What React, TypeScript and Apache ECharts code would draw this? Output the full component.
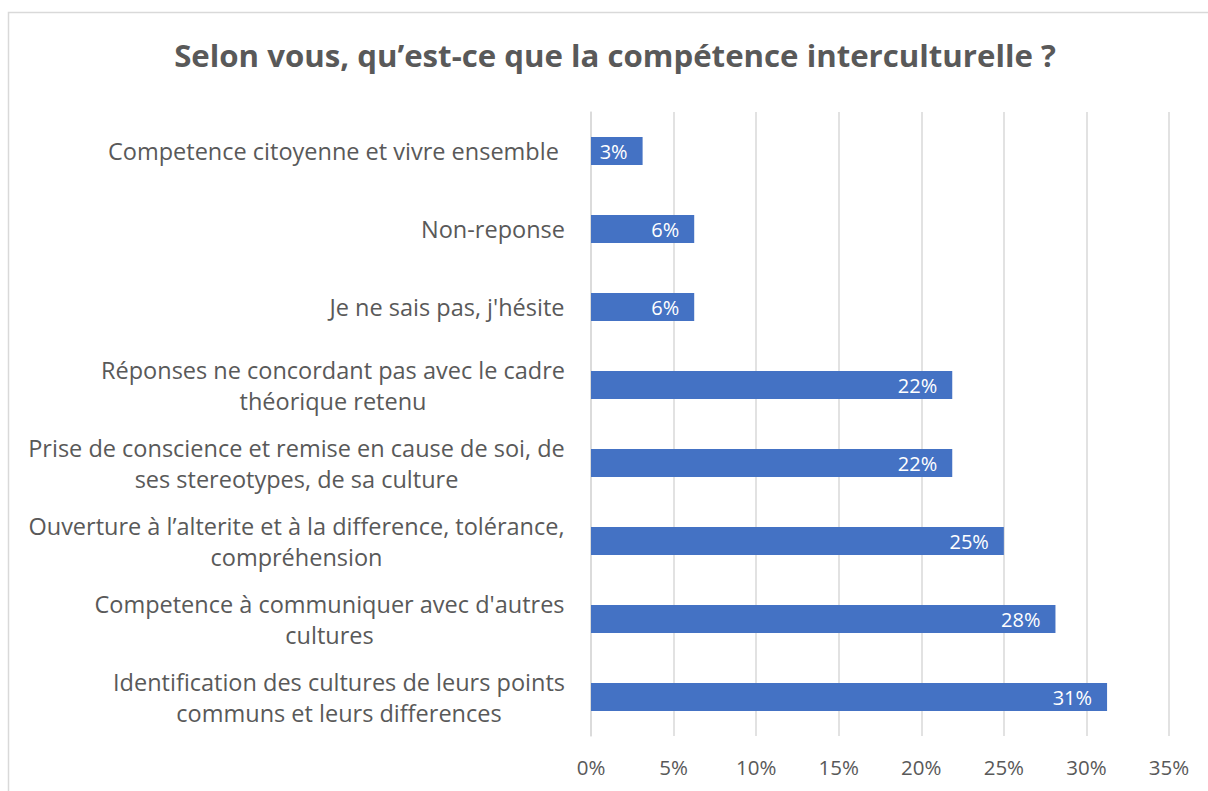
import React, { useEffect, useRef } from "react";
import * as echarts from "echarts";

const title = "Selon vous, qu’est-ce que la compétence interculturelle ?";
const categories = [
  "Competence citoyenne et vivre ensemble ",
  "Non-reponse",
  "Je ne sais pas, j'hésite",
  "Réponses ne concordant pas avec le cadre\nthéorique retenu",
  "Prise de conscience et remise en cause de soi, de\nses stereotypes, de sa culture",
  "Ouverture à l’alterite et à la difference, tolérance,\ncompréhension",
  "Competence à communiquer avec d'autres\ncultures",
  "Identification des cultures de leurs points\ncommuns et leurs differences",
];
const values = [3.125, 6.25, 6.25, 21.875, 21.875, 25, 28.125, 31.25];
const xTicks = [0, 5, 10, 15, 20, 25, 30, 35];

const FONT = "Open Sans";
const LABEL_SIZE = 23.5;

function measure(text: string, size: number): number {
  const c = document.createElement("canvas").getContext("2d");
  if (!c) return text.length * size * 0.5;
  c.font = `${size}px "${FONT}"`;
  return c.measureText(text).width;
}

export default function App() {
  const ref = useRef<HTMLDivElement>(null);
  useEffect(() => {
    if (!ref.current) return;
    const chart = echarts.init(ref.current, undefined, { renderer: "svg" });
    const rich: Record<string, any> = {};
    const formatted: Record<string, string> = {};
    categories.forEach((cat, i) => {
      const lines = cat.split("\n");
      const w = Math.ceil(Math.max(...lines.map((l) => measure(l, LABEL_SIZE))));
      rich["c" + i] = {
        width: w,
        align: "center",
        fontFamily: FONT,
        fontSize: LABEL_SIZE,
        color: "#595959",
        lineHeight: 31,
      };
      formatted[cat] = lines.map((l) => `{c${i}|${l}}`).join("\n");
    });
    chart.setOption({
      animation: false,
      backgroundColor: "#ffffff",
      title: {
        text: title,
        left: 610,
        textAlign: "center",
        top: 34,
        textStyle: {
          fontFamily: FONT,
          fontSize: 31.2,
          fontWeight: "bold",
          color: "#595959",
        },
      },
      graphic: [
        {
          type: "rect",
          shape: { x: 8.5, y: 12.5, width: 1220, height: 800 },
          style: { fill: "none", stroke: "#d9d9d9", lineWidth: 1.5 },
          silent: true,
        },
      ],
      grid: { left: 591, right: 39, top: 112, bottom: 55, containLabel: false },
      xAxis: {
        type: "value",
        min: 0,
        max: 35,
        interval: 5,
        axisLine: { show: false },
        axisTick: { show: false },
        splitLine: { show: true, lineStyle: { color: "#d9d9d9", width: 1.5 } },
        axisLabel: {
          formatter: (v: number) => (xTicks.includes(v) ? `${v}%` : ""),
          fontFamily: FONT,
          fontSize: 20.5,
          color: "#595959",
          margin: 20,
        },
      },
      yAxis: {
        type: "category",
        data: categories,
        inverse: true,
        axisLine: { show: true, lineStyle: { color: "#d9d9d9", width: 1.5 } },
        axisTick: { show: false },
        axisLabel: {
          margin: 26,
          formatter: (v: string) => formatted[v] || v,
          rich,
          fontFamily: FONT,
          fontSize: LABEL_SIZE,
          color: "#595959",
          lineHeight: 31,
        },
      },
      series: [
        {
          type: "bar",
          data: values,
          barWidth: 28,
          itemStyle: { color: "#4472c4" },
          label: {
            show: true,
            position: "insideRight",
            distance: 15,
            formatter: (p: any) => `${Math.round(p.value)}%`,
            color: "#ffffff",
            fontFamily: FONT,
            fontSize: 20,
          },
        },
      ],
    });
    return () => chart.dispose();
  }, []);
  return (
    <div
      ref={ref}
      style={{ position: "fixed", left: 0, top: 0, width: 1208, height: 791 }}
    />
  );
}
